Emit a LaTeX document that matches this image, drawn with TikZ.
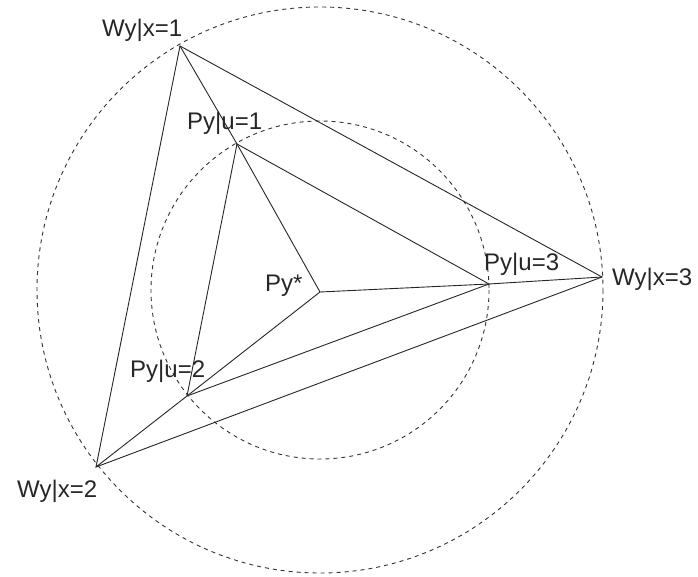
\documentclass[tikz,border=0pt]{standalone}
\usepackage{fontspec}
\setmainfont{Liberation Sans}
\begin{document}
\begin{tikzpicture}[x=1pt,y=-1pt,
  ring/.style={draw=black!80,line width=0.9pt,dash pattern=on 4pt off 4pt},
  edge/.style={draw=black!85,line width=0.9pt},
  lbl/.style={anchor=base west,inner sep=0pt,font=\fontsize{24}{28}\selectfont,text=black!85}]
\useasboundingbox (0,0) rectangle (698,577);

% centre and the two reference circles
\coordinate (c) at (320,290);
\draw[ring] (c) circle[radius=283];
\draw[ring] (c) circle[radius=169];

% points
\coordinate (ps) at (320,292);
\coordinate (p1) at (237,144);
\coordinate (p2) at (187,396);
\coordinate (p3) at (489,284);
\coordinate (w1) at (180,46);
\coordinate (w2) at (96,467);
\coordinate (w3) at (602,277);

% outer triangle
\draw[edge] (w1) -- (w3) -- (w2) -- cycle;
% inner triangle
\draw[edge] (p1) -- (p3) -- (p2) -- cycle;
% rays from the centre point
\draw[edge] (ps) -- (p1) -- (w1);
\draw[edge] (ps) -- (p2) -- (w2);
\draw[edge] (ps) -- (p3) -- (w3);

% labels
\node[lbl] (lw1) at (102,37) {Wy|x=1};
\node[lbl] (lp1) at (187,130) {Py|u=1};
\node[lbl] (lps) at (265,291) {Py*};
\node[lbl] (lp3) at (484,270) {Py|u=3};
\node[lbl] (lw3) at (612,285) {Wy|x=3};
\node[lbl] (lp2) at (130,377) {Py|u=2};
\node[lbl] (lw2) at (17,497) {Wy|x=2};
\end{tikzpicture}
\end{document}
